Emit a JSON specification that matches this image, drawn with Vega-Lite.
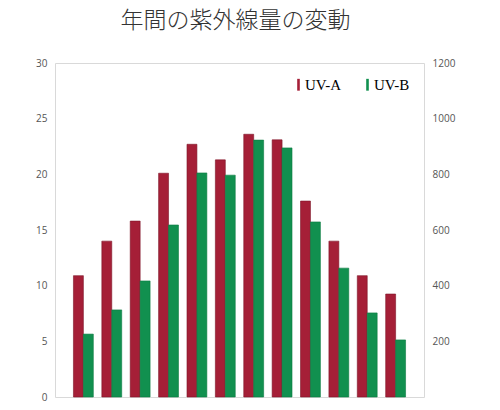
{
  "$schema": "https://vega.github.io/schema/vega-lite/v6.json",
  "autosize": {"type": "none"},
  "width": 369,
  "height": 334,
  "padding": {"left": 55, "top": 63, "right": 76, "bottom": 13},
  "background": "white",
  "config": {
    "view": {"stroke": "#d9d9d9", "strokeWidth": 1},
    "axis": {"labelFont": "Open Sans", "labelFontSize": 10, "labelColor": "#555555", "domain": false, "ticks": false, "grid": false, "labelPadding": 8}
  },
  "title": {
    "text": "年間の紫外線量の変動",
    "font": "Noto Sans CJK JP",
    "fontSize": 23,
    "fontWeight": 300,
    "color": "#333333",
    "anchor": "middle",
    "offset": 25,
    "dx": -4
  },
  "data": {
    "values": [
      {"month": 1, "series": "UV-A", "value": 10.9},
      {"month": 2, "series": "UV-A", "value": 14.0},
      {"month": 3, "series": "UV-A", "value": 15.8},
      {"month": 4, "series": "UV-A", "value": 20.1},
      {"month": 5, "series": "UV-A", "value": 22.7},
      {"month": 6, "series": "UV-A", "value": 21.3},
      {"month": 7, "series": "UV-A", "value": 23.6},
      {"month": 8, "series": "UV-A", "value": 23.1},
      {"month": 9, "series": "UV-A", "value": 17.6},
      {"month": 10, "series": "UV-A", "value": 14.0},
      {"month": 11, "series": "UV-A", "value": 10.9},
      {"month": 12, "series": "UV-A", "value": 9.25},
      {"month": 1, "series": "UV-B", "value": 226},
      {"month": 2, "series": "UV-B", "value": 313},
      {"month": 3, "series": "UV-B", "value": 417},
      {"month": 4, "series": "UV-B", "value": 618},
      {"month": 5, "series": "UV-B", "value": 805},
      {"month": 6, "series": "UV-B", "value": 797},
      {"month": 7, "series": "UV-B", "value": 923},
      {"month": 8, "series": "UV-B", "value": 895},
      {"month": 9, "series": "UV-B", "value": 629},
      {"month": 10, "series": "UV-B", "value": 463},
      {"month": 11, "series": "UV-B", "value": 302},
      {"month": 12, "series": "UV-B", "value": 205}
    ]
  },
  "encoding": {
    "x": {"field": "month", "type": "ordinal", "axis": null, "scale": {"paddingInner": 0.3, "paddingOuter": 0.65}},
    "xOffset": {"field": "series", "type": "nominal", "scale": {"domain": ["UV-A", "UV-B"], "paddingInner": 0}},
    "color": {
      "field": "series", "type": "nominal",
      "scale": {"domain": ["UV-A", "UV-B"], "range": ["#a51f37", "#11904f"]},
      "legend": {
        "title": null,
        "orient": "top-right",
        "direction": "horizontal",
        "offset": 14,
        "symbolType": "M-0.22,-1H0.22V1H-0.22Z",
        "symbolSize": 140,
        "symbolStrokeWidth": 0,
        "symbolOffset": 0,
        "labelFont": "Liberation Serif",
        "labelFontSize": 15,
        "labelOffset": -1,
        "columnPadding": 18,
        "encode": {"labels": {"update": {"fill": {"scale": "color", "field": "value"}, "opacity": {"value": 0.65}}}}
      }
    }
  },
  "layer": [
    {
      "transform": [{"filter": "datum.series === 'UV-A'"}],
      "mark": {"type": "bar", "stroke": "#7d1628", "strokeWidth": 0.6},
      "encoding": {
        "y": {"field": "value", "type": "quantitative", "scale": {"domain": [0, 30]}, "axis": {"orient": "left", "title": null, "values": [0, 5, 10, 15, 20, 25, 30]}}
      }
    },
    {
      "transform": [{"filter": "datum.series === 'UV-B'"}],
      "mark": {"type": "bar", "stroke": "#0c7a42", "strokeWidth": 0.6},
      "encoding": {
        "y": {"field": "value", "type": "quantitative", "scale": {"domain": [0, 1200]}, "axis": {"orient": "right", "title": null, "format": "d", "values": [200, 400, 600, 800, 1000, 1200]}}
      }
    }
  ],
  "resolve": {"scale": {"y": "independent"}}
}
